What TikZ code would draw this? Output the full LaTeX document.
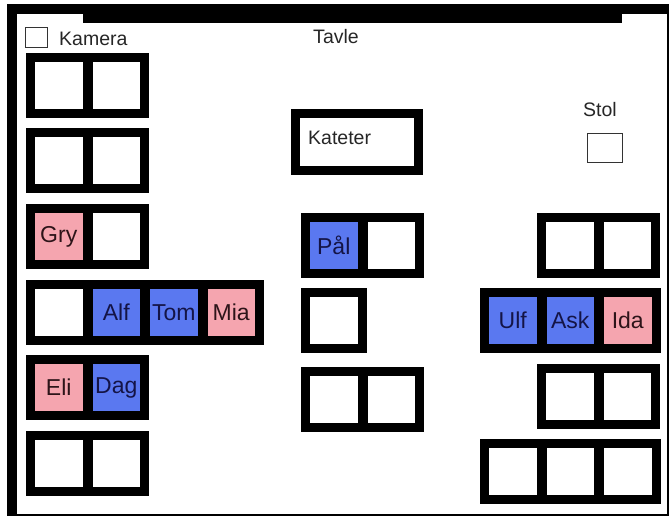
\documentclass[tikz,border=0pt]{standalone}
\usepackage{fontspec}
\setmainfont{Liberation Sans}
\usepackage{xcolor}
\usepackage{tikz}
\usetikzlibrary{calc}

\definecolor{jente}{RGB}{245,165,175}
\definecolor{gutt}{RGB}{90,120,240}

\tikzset{
  seat/.style={fill=white, minimum width=47.5pt, minimum height=47pt, inner sep=0pt,
    font=\fontsize{23pt}{26pt}\selectfont},
  girl/.style={seat, fill=jente, text={rgb,255:red,45;green,20;blue,25}},
  boy/.style={seat, fill=gutt, text={rgb,255:red,20;green,20;blue,70}},
  label/.style={font=\fontsize{19.5pt}{22pt}\selectfont, text=black!85, inner sep=0pt}
}

\begin{document}
\begin{tikzpicture}[x=1pt,y=-1pt]
    \useasboundingbox (0,0) rectangle (671,517);
    % rommet og tavla
    \fill (7,4) rectangle (17,516);
    \fill (7,4) rectangle (669,14);
    \draw[line width=1.5pt] (668,4) -- (668,515) -- (7,515);
    \fill (83,4) rectangle (622,23);
    \node[label] (tavle) at (336,37) {Tavle};

    % kamera og stol
    \draw[line width=0.8pt, black!80] (25,27) rectangle (47,47);
    \node[label, anchor=west] (kamera) at (59,39) {Kamera};
    \node[label] (stol) at (600,110) {Stol};
    \draw[line width=0.8pt, black!80] (587,133) rectangle (622,162);

    % kateter
    \fill (291,109) rectangle (423,175);
    \fill[white] (300,118) rectangle (414,166);
    \node[label, anchor=west] (kateter) at (308,138) {Kateter};

    % pultene
    \foreach \dx/\dy/\n [count=\i] in {26/53/2, 26/128/2, 26/204/2, 26/280/4, 26/355/2, 26/431/2,
        301/213/2, 301/288/1, 301/367/2, 537/213/2, 480/288/3, 537/364/2, 480/439/3} {
      \fill (\dx,\dy) rectangle ++({8+57.5*\n},65);
      \foreach \k in {1,...,\n}
        \node[seat] (d\i-\k) at ({\dx+32.75+57.5*(\k-1)},{\dy+32.5}) {};
    }

    % elevene
    \node[girl] (gry) at (d3-1) {Gry};
    \node[boy] (alf) at (d4-2) {Alf};
    \node[boy] (tom) at (d4-3) {Tom};
    \node[girl] (mia) at (d4-4) {Mia};
    \node[girl] (eli) at (d5-1) {Eli};
    \node[boy] (dag) at (d5-2) {Dag};
    \node[boy] (paal) at (d7-1) {Pål};
    \node[boy] (ulf) at (d11-1) {Ulf};
    \node[boy] (ask) at (d11-2) {Ask};
    \node[girl] (ida) at (d11-3) {Ida};
\end{tikzpicture}
\end{document}
